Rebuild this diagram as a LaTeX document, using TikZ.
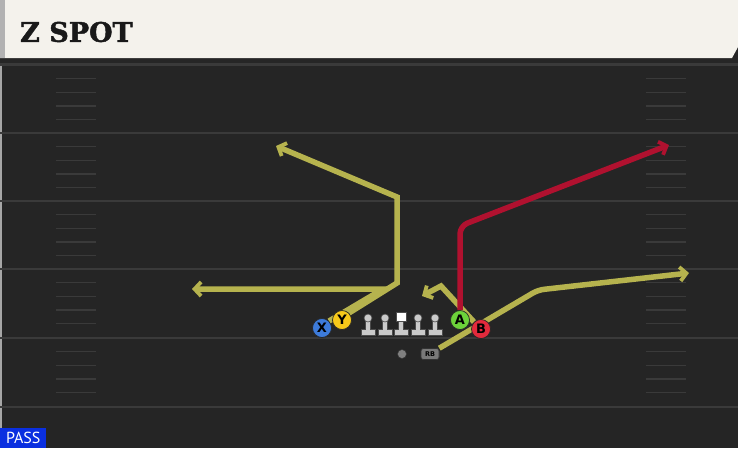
\documentclass[tikz,border=0pt]{standalone}
\usepackage{fontspec}
\setmainfont{DejaVu Sans}
\newfontfamily\titlefont{DejaVu Serif}[BoldFont={DejaVu Serif Bold}, BoldFeatures={FakeBold=1.6}]
\newfontfamily\tagfont{PT Sans}
\usetikzlibrary{arrows.meta}
\definecolor{fieldbg}{HTML}{252525}
\definecolor{fieldline}{HTML}{3A3A3A}
\definecolor{headbg}{HTML}{F4F2EC}
\definecolor{olive}{HTML}{B6B34E}
\definecolor{crimson}{HTML}{B0112F}
\definecolor{xblue}{HTML}{3D7BDA}
\definecolor{yyellow}{HTML}{F6C81A}
\definecolor{agreen}{HTML}{6CD23A}
\definecolor{bred}{HTML}{E22A3C}
\definecolor{linegray}{HTML}{CACACA}
\definecolor{passblue}{HTML}{0A2FE0}

\tikzset{
  lineman/.pic={
    \fill[linegray,draw=black!70,line width=.6pt]
      (-2.4,0) -- (-2.4,11) -- (-7,11) -- (-7,17) -- (7,17) -- (7,11) -- (2.4,11) -- (2.4,0) -- cycle;
    \fill[linegray,draw=black!70,line width=.6pt] (0,0) circle (4);
  },
  center/.pic={
    \fill[linegray,draw=black!70,line width=.6pt]
      (-2.4,0) -- (-2.4,11) -- (-7,11) -- (-7,17) -- (7,17) -- (7,11) -- (2.4,11) -- (2.4,0) -- cycle;
    \fill[white,draw=black!70,line width=.6pt] (-5,-6) rectangle (5,3.5);
  }
}

\begin{document}
\begin{tikzpicture}[x=1pt,y=-1pt,
    route/.style={line width=5.5pt, olive, line join=miter,
      -{Straight Barb[length=6.5pt,width=14pt,line width=3.8pt]}},
    hotroute/.style={route, crimson},
    player/.style={circle, draw=black!85, line width=.7pt, minimum size=19pt,
      inner sep=0pt, font=\bfseries\fontsize{13}{13}\selectfont},
    backfield/.style={rounded corners=2.5pt, fill=black!40!linegray, draw=black!80,
      line width=.6pt, minimum width=18pt, minimum height=11pt, inner sep=0pt,
      font=\bfseries\fontsize{6.5}{6.5}\selectfont},
    hash/.style={fieldline, line width=1.6pt},
    yardline/.style={fieldline, line width=2pt}]

  % field
  \fill[fieldbg] (0,0) rectangle (738,448);
  \useasboundingbox (0,0) rectangle (738,448);
  \fill[black!35] (0,62) rectangle (2,448);
  \foreach \y in {133,201,269,338,407}
    \draw[yardline] (0,\y) -- (738,\y);
  \foreach \y in {65,133,201,269,338}
    \foreach \k in {1,...,4} {
      \draw[hash] (56,{\y+13.66*\k}) -- (96,{\y+13.66*\k});
      \draw[hash] (646,{\y+13.66*\k}) -- (686,{\y+13.66*\k});
    }

  % header
  \fill[black!85] (0,57) rectangle (738,63);
  \fill[fieldline] (0,63) rectangle (738,66);
  \fill[headbg] (0,0) -- (738,0) -- (738,47) -- (732,58) -- (0,58) -- cycle;
  \fill[black!30] (0,0) rectangle (5,58);
  \node[anchor=west, inner sep=0pt, text=black!90,
    font=\titlefont\bfseries\fontsize{27}{27}\selectfont]
    (title) at (20,32) {Z SPOT};

  % players
  \node[player, fill=xblue]   (X) at (322,328) {X};
  \node[player, fill=yyellow] (Y) at (342,320) {Y};
  \node[player, fill=agreen]  (A) at (460,320) {A};
  \node[player, fill=bred]    (B) at (481,329) {B};
  \node[circle, fill=black!50, draw=black!80, line width=.5pt, minimum size=9pt,
    inner sep=0pt] (QB) at (402,354) {};
  \node[backfield] (RB) at (430,354) {RB};

  % line
  \foreach \x in {368,385,418,435}
    \pic at (\x,318) {lineman};
  \pic at (401,318) {center};

  % routes
  \coordinate (xbreak) at (383,289);
  \coordinate (xend)   at (192,289);
  \coordinate (ycut)   at (397,283);
  \coordinate (ypost)  at (397,197);
  \coordinate (yend)   at (276,146);
  \coordinate (bturn)  at (441,286);
  \coordinate (bend)   at (422,296);
  \coordinate (rbturn) at (538,290);
  \coordinate (rbend)  at (689,273);
  \coordinate (astem)  at (460,226);
  \coordinate (aend)   at (669,145);

  \draw[route] (X.north east) -- (xbreak) -- (xend);
  \draw[route] (Y.north east) -- (ycut) -- (ypost) -- (yend);
  \draw[route] (B.north west) -- (bturn) -- (bend);
  \draw[route, rounded corners=6pt] (RB.north east) -- (rbturn) -- (rbend);
  \draw[hotroute, rounded corners=8pt] (A.north) -- (astem) -- (aend);

  % redraw players over routes
  \node[player, fill=xblue]   at (X) {X};
  \node[player, fill=yyellow] at (Y) {Y};
  \node[player, fill=agreen]  at (A) {A};
  \node[player, fill=bred]    at (B) {B};
  \node[backfield] at (RB) {RB};

  % play type
  \node[fill=passblue, text=white, anchor=south west, minimum width=46pt,
    minimum height=20pt, inner sep=1pt, font=\tagfont\fontsize{16}{16}\selectfont]
    (tag) at (0,448) {PASS};
\end{tikzpicture}
\end{document}
